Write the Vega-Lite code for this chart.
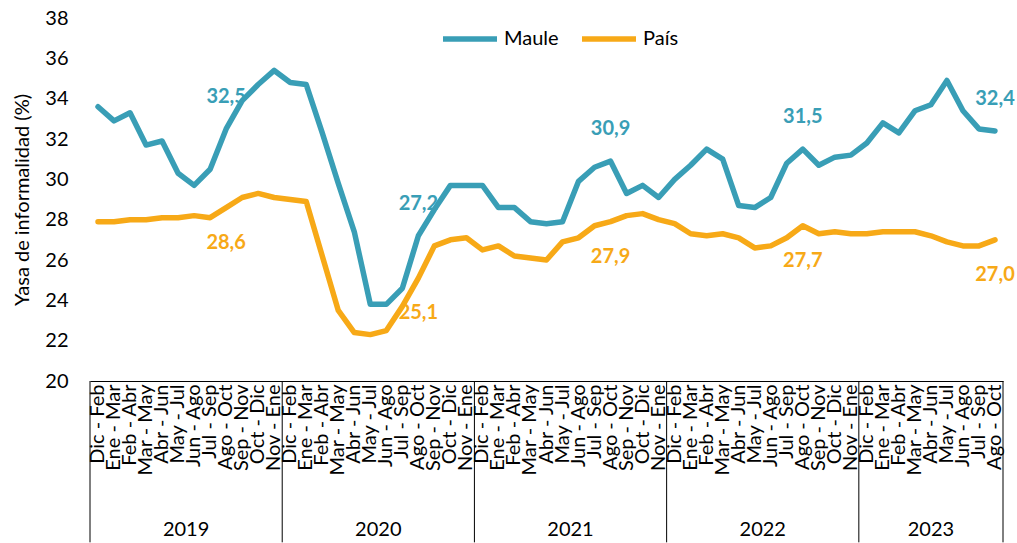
{
  "$schema": "https://vega.github.io/schema/vega-lite/v6.json",
  "autosize": {"type": "none"},
  "padding": {"left": 90, "top": 18, "right": 14, "bottom": 162},
  "width": 913,
  "height": 363,
  "config": {
    "font": "Lato",
    "view": {"stroke": null},
    "text": {"font": "Lato"}
  },
  "datasets": {
    "serie": [
      {"periodo": "2019 Dic - Feb", "Maule": 33.6, "País": 27.9},
      {"periodo": "2019 Ene - Mar", "Maule": 32.9, "País": 27.9},
      {"periodo": "2019 Feb - Abr", "Maule": 33.3, "País": 28.0},
      {"periodo": "2019 Mar - May", "Maule": 31.7, "País": 28.0},
      {"periodo": "2019 Abr - Jun", "Maule": 31.9, "País": 28.1},
      {"periodo": "2019 May - Jul", "Maule": 30.3, "País": 28.1},
      {"periodo": "2019 Jun - Ago", "Maule": 29.7, "País": 28.2},
      {"periodo": "2019 Jul - Sep", "Maule": 30.5, "País": 28.1},
      {"periodo": "2019 Ago - Oct", "Maule": 32.5, "País": 28.6, "etqM": "32,5", "etqP": "28,6"},
      {"periodo": "2019 Sep - Nov", "Maule": 33.9, "País": 29.1},
      {"periodo": "2019 Oct - Dic", "Maule": 34.7, "País": 29.3},
      {"periodo": "2019 Nov - Ene", "Maule": 35.4, "País": 29.1},
      {"periodo": "2020 Dic - Feb", "Maule": 34.8, "País": 29.0},
      {"periodo": "2020 Ene - Mar", "Maule": 34.7, "País": 28.9},
      {"periodo": "2020 Feb - Abr", "Maule": 32.3, "País": 26.2},
      {"periodo": "2020 Mar - May", "Maule": 29.8, "País": 23.5},
      {"periodo": "2020 Abr - Jun", "Maule": 27.4, "País": 22.4},
      {"periodo": "2020 May - Jul", "Maule": 23.8, "País": 22.3},
      {"periodo": "2020 Jun - Ago", "Maule": 23.8, "País": 22.5},
      {"periodo": "2020 Jul - Sep", "Maule": 24.6, "País": 23.7},
      {"periodo": "2020 Ago - Oct", "Maule": 27.2, "País": 25.1, "etqM": "27,2", "etqP": "25,1"},
      {"periodo": "2020 Sep - Nov", "Maule": 28.5, "País": 26.7},
      {"periodo": "2020 Oct - Dic", "Maule": 29.7, "País": 27.0},
      {"periodo": "2020 Nov - Ene", "Maule": 29.7, "País": 27.1},
      {"periodo": "2021 Dic - Feb", "Maule": 29.7, "País": 26.5},
      {"periodo": "2021 Ene - Mar", "Maule": 28.6, "País": 26.7},
      {"periodo": "2021 Feb - Abr", "Maule": 28.6, "País": 26.2},
      {"periodo": "2021 Mar - May", "Maule": 27.9, "País": 26.1},
      {"periodo": "2021 Abr - Jun", "Maule": 27.8, "País": 26.0},
      {"periodo": "2021 May - Jul", "Maule": 27.9, "País": 26.9},
      {"periodo": "2021 Jun - Ago", "Maule": 29.9, "País": 27.1},
      {"periodo": "2021 Jul - Sep", "Maule": 30.6, "País": 27.7},
      {"periodo": "2021 Ago - Oct", "Maule": 30.9, "País": 27.9, "etqM": "30,9", "etqP": "27,9"},
      {"periodo": "2021 Sep - Nov", "Maule": 29.3, "País": 28.2},
      {"periodo": "2021 Oct - Dic", "Maule": 29.7, "País": 28.3},
      {"periodo": "2021 Nov - Ene", "Maule": 29.1, "País": 28.0},
      {"periodo": "2022 Dic - Feb", "Maule": 30.0, "País": 27.8},
      {"periodo": "2022 Ene - Mar", "Maule": 30.7, "País": 27.3},
      {"periodo": "2022 Feb - Abr", "Maule": 31.5, "País": 27.2},
      {"periodo": "2022 Mar - May", "Maule": 31.0, "País": 27.3},
      {"periodo": "2022 Abr - Jun", "Maule": 28.7, "País": 27.1},
      {"periodo": "2022 May - Jul", "Maule": 28.6, "País": 26.6},
      {"periodo": "2022 Jun - Ago", "Maule": 29.1, "País": 26.7},
      {"periodo": "2022 Jul - Sep", "Maule": 30.8, "País": 27.1},
      {"periodo": "2022 Ago - Oct", "Maule": 31.5, "País": 27.7, "etqM": "31,5", "etqP": "27,7"},
      {"periodo": "2022 Sep - Nov", "Maule": 30.7, "País": 27.3},
      {"periodo": "2022 Oct - Dic", "Maule": 31.1, "País": 27.4},
      {"periodo": "2022 Nov - Ene", "Maule": 31.2, "País": 27.3},
      {"periodo": "2023 Dic - Feb", "Maule": 31.8, "País": 27.3},
      {"periodo": "2023 Ene - Mar", "Maule": 32.8, "País": 27.4},
      {"periodo": "2023 Feb - Abr", "Maule": 32.3, "País": 27.4},
      {"periodo": "2023 Mar - May", "Maule": 33.4, "País": 27.4},
      {"periodo": "2023 Abr - Jun", "Maule": 33.7, "País": 27.2},
      {"periodo": "2023 May - Jul", "Maule": 34.9, "País": 26.9},
      {"periodo": "2023 Jun - Ago", "Maule": 33.4, "País": 26.7},
      {"periodo": "2023 Jul - Sep", "Maule": 32.5, "País": 26.7},
      {"periodo": "2023 Ago - Oct", "Maule": 32.4, "País": 27.0, "etqM": "32,4", "etqP": "27,0"}
    ],
    "anios": [
      {"anio": "2019", "inicio": "2019 Dic - Feb", "centro": "2019 Jun - Ago"},
      {"anio": "2020", "inicio": "2020 Dic - Feb", "centro": "2020 Jun - Ago"},
      {"anio": "2021", "inicio": "2021 Dic - Feb", "centro": "2021 Jun - Ago"},
      {"anio": "2022", "inicio": "2022 Dic - Feb", "centro": "2022 Jun - Ago"},
      {"anio": "2023", "inicio": "2023 Dic - Feb", "centro": "2023 Abr - Jun"}
    ]
  },
  "layer": [
    {
      "data": {"name": "serie"},
      "transform": [{"fold": ["Maule", "País"], "as": ["region", "valor"]}],
      "mark": {"type": "line", "strokeWidth": 5.5, "strokeJoin": "round", "strokeCap": "round"},
      "encoding": {
        "x": {
          "field": "periodo", "type": "ordinal", "sort": null,
          "scale": {
            "paddingInner": 0, "paddingOuter": 0,
            "domain": [
              "2019 Dic - Feb", "2019 Ene - Mar", "2019 Feb - Abr", "2019 Mar - May", "2019 Abr - Jun", "2019 May - Jul", "2019 Jun - Ago", "2019 Jul - Sep", "2019 Ago - Oct", "2019 Sep - Nov", "2019 Oct - Dic", "2019 Nov - Ene",
              "2020 Dic - Feb", "2020 Ene - Mar", "2020 Feb - Abr", "2020 Mar - May", "2020 Abr - Jun", "2020 May - Jul", "2020 Jun - Ago", "2020 Jul - Sep", "2020 Ago - Oct", "2020 Sep - Nov", "2020 Oct - Dic", "2020 Nov - Ene",
              "2021 Dic - Feb", "2021 Ene - Mar", "2021 Feb - Abr", "2021 Mar - May", "2021 Abr - Jun", "2021 May - Jul", "2021 Jun - Ago", "2021 Jul - Sep", "2021 Ago - Oct", "2021 Sep - Nov", "2021 Oct - Dic", "2021 Nov - Ene",
              "2022 Dic - Feb", "2022 Ene - Mar", "2022 Feb - Abr", "2022 Mar - May", "2022 Abr - Jun", "2022 May - Jul", "2022 Jun - Ago", "2022 Jul - Sep", "2022 Ago - Oct", "2022 Sep - Nov", "2022 Oct - Dic", "2022 Nov - Ene",
              "2023 Dic - Feb", "2023 Ene - Mar", "2023 Feb - Abr", "2023 Mar - May", "2023 Abr - Jun", "2023 May - Jul", "2023 Jun - Ago", "2023 Jul - Sep", "2023 Ago - Oct"
            ]
          },
          "axis": {
            "title": null, "labelAngle": -90, "labelFontSize": 20, "labelColor": "#000000",
            "labelExpr": "slice(datum.label, 5)", "labelOverlap": false, "labelPadding": 3,
            "ticks": false, "domainColor": "#000000", "domainWidth": 1, "labelFont": "Lato", "labelBound": false
          }
        },
        "y": {
          "field": "valor", "type": "quantitative",
          "scale": {"domain": [20, 38], "nice": false, "zero": false},
          "axis": {
            "title": "Yasa de informalidad (%)", "values": [20, 22, 24, 26, 28, 30, 32, 34, 36, 38],
            "grid": false, "domain": false, "ticks": false, "labelFontSize": 20, "labelColor": "#000000",
            "labelPadding": 22, "titleFontSize": 20, "titleFontWeight": "normal", "titleColor": "#000000",
            "titlePadding": 12, "labelFont": "Lato", "titleFont": "Lato"
          }
        },
        "color": {
          "field": "region", "type": "nominal",
          "scale": {"domain": ["Maule", "País"], "range": ["#399EB6", "#F7A917"]},
          "legend": {
            "title": null, "orient": "none", "legendX": 350, "legendY": -9, "direction": "horizontal",
            "symbolType": "stroke", "symbolSize": 2916, "symbolStrokeWidth": 5.5, "labelFontSize": 20,
            "labelColor": "#000000", "labelFont": "Lato", "columnPadding": 12, "labelOffset": 4
          }
        }
      }
    },
    {
      "data": {"name": "serie"},
      "transform": [{"filter": "datum.etqM != null"}],
      "mark": {"type": "text", "fontSize": 20, "fontWeight": "bold", "color": "#399EB6", "dy": -32, "baseline": "middle"},
      "encoding": {
        "x": {"field": "periodo", "type": "ordinal", "sort": null},
        "y": {"field": "Maule", "type": "quantitative"},
        "text": {"field": "etqM"}
      }
    },
    {
      "data": {"name": "serie"},
      "transform": [{"filter": "datum.etqP != null"}],
      "mark": {"type": "text", "fontSize": 20, "fontWeight": "bold", "color": "#F7A917", "dy": 35, "baseline": "middle"},
      "encoding": {
        "x": {"field": "periodo", "type": "ordinal", "sort": null},
        "y": {"field": "País", "type": "quantitative"},
        "text": {"field": "etqP"}
      }
    },
    {
      "data": {"name": "anios"},
      "mark": {"type": "rule", "color": "#000000", "strokeWidth": 1},
      "encoding": {
        "x": {"field": "inicio", "type": "ordinal", "sort": null, "bandPosition": 0},
        "y": {"datum": 20},
        "y2": {"datum": 12}
      }
    },
    {
      "data": {"name": "anios"},
      "transform": [{"filter": "datum.anio == '2023'"}],
      "mark": {"type": "rule", "color": "#000000", "strokeWidth": 1},
      "encoding": {
        "x": {"datum": "2023 Ago - Oct", "type": "ordinal", "bandPosition": 1},
        "y": {"datum": 20},
        "y2": {"datum": 12}
      }
    },
    {
      "data": {"name": "anios"},
      "transform": [{"filter": "datum.anio != '2023'"}],
      "mark": {"type": "text", "fontSize": 20, "color": "#000000", "baseline": "middle"},
      "encoding": {
        "x": {"field": "centro", "type": "ordinal", "sort": null, "bandPosition": 0},
        "y": {"datum": 12.6},
        "text": {"field": "anio"}
      }
    },
    {
      "data": {"name": "anios"},
      "transform": [{"filter": "datum.anio == '2023'"}],
      "mark": {"type": "text", "fontSize": 20, "color": "#000000", "baseline": "middle"},
      "encoding": {
        "x": {"field": "centro", "type": "ordinal", "sort": null, "bandPosition": 0.5},
        "y": {"datum": 12.6},
        "text": {"field": "anio"}
      }
    }
  ]
}
